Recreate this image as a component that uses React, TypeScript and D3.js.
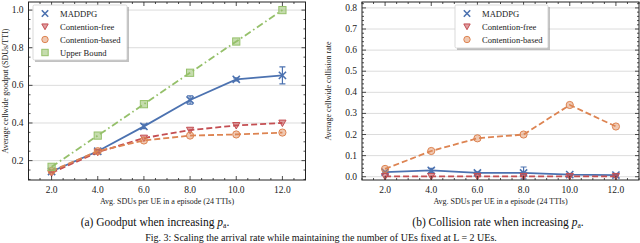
import React, { useEffect, useRef } from 'react';
import * as d3 from 'd3';

const xs = [2, 4, 6, 8, 10, 12];
const xTicks = [2, 4, 6, 8, 10, 12];

// goodput (left)
const gMaddpg = [0.142, 0.25, 0.382, 0.522, 0.632, 0.653];
const gMaddpgErr = [0.005, 0.008, 0.012, 0.022, 0.008, 0.045];
const gFree = [0.135, 0.245, 0.32, 0.362, 0.387, 0.4];
const gBased = [0.145, 0.25, 0.307, 0.333, 0.339, 0.349];
const gUpper = [0.167, 0.333, 0.5, 0.667, 0.833, 1.0];
const gYTicks = [0.2, 0.4, 0.6, 0.8, 1.0];

// collision rate (right)
const cMaddpg = [0.022, 0.03, 0.018, 0.018, 0.01, 0.008];
const cMaddpgErr = [0.004, 0.01, 0.005, 0.028, 0.004, 0.003];
const cFree = [0.002, 0.002, 0.002, 0.002, 0.002, 0.002];
const cBased = [0.037, 0.122, 0.182, 0.2, 0.34, 0.238];
const cYTicks = [0.0, 0.1, 0.2, 0.3, 0.4, 0.5, 0.6, 0.7, 0.8];

const BLUE = '#4C72B0';
const RED = '#C44E52';
const ORANGE = '#DD8452';
const GREEN = '#95C06A';
const FONT = "'Liberation Serif', 'Times New Roman', 'DejaVu Serif', serif";

const App = () => {
  const ref = useRef<SVGSVGElement>(null);

  useEffect(() => {
    const svg = d3.select(ref.current);
    svg.selectAll('*').remove();

    const drawMarker = (g: any, type: string, cx: number, cy: number, color: string, s = 3.6) => {
      if (type === 'x') {
        g.append('path')
          .attr('d', `M${cx - s},${cy - s}L${cx + s},${cy + s}M${cx - s},${cy + s}L${cx + s},${cy - s}`)
          .attr('stroke', color).attr('stroke-width', 1.6).attr('fill', 'none');
      } else if (type === 'v') {
        g.append('path')
          .attr('d', `M${cx - s},${cy - s * 0.8}L${cx + s},${cy - s * 0.8}L${cx},${cy + s}Z`)
          .attr('fill', color).attr('fill-opacity', 0.55).attr('stroke', color).attr('stroke-width', 1);
      } else if (type === 'o') {
        g.append('circle').attr('cx', cx).attr('cy', cy).attr('r', s)
          .attr('fill', color).attr('fill-opacity', 0.45).attr('stroke', color).attr('stroke-width', 1);
      } else if (type === 's') {
        g.append('rect').attr('x', cx - s).attr('y', cy - s).attr('width', 2 * s).attr('height', 2 * s)
          .attr('fill', color).attr('fill-opacity', 0.55).attr('stroke', color).attr('stroke-width', 1);
      }
    };

    const panel = (opts: any) => {
      const { left, right, top, bottom, yDomain, yTicks, yMinor, series, ylabel, ylabelX, legend } = opts;
      const g = svg.append('g');
      const x = d3.scaleLinear().domain([1, 13]).range([left, right]);
      const y = d3.scaleLinear().domain(yDomain).range([bottom, top]);

      // grid
      g.selectAll('line.grid').data(yTicks).enter().append('line')
        .attr('x1', left).attr('x2', right)
        .attr('y1', (d: number) => y(d)).attr('y2', (d: number) => y(d))
        .attr('stroke', '#dcdcdc').attr('stroke-width', 1);

      // series
      series.forEach((s: any) => {
        const line = d3.line<number>().x((d, i) => x(xs[i])).y(d => y(d));
        g.append('path').datum(s.values).attr('d', line)
          .attr('fill', 'none').attr('stroke', s.color).attr('stroke-width', 1.8)
          .attr('stroke-dasharray', s.dash || null);
        if (s.err) {
          s.values.forEach((v: number, i: number) => {
            const cx = x(xs[i]);
            const e = s.err[i];
            g.append('path')
              .attr('d', `M${cx},${y(v - e)}V${y(v + e)}M${cx - 3},${y(v - e)}H${cx + 3}M${cx - 3},${y(v + e)}H${cx + 3}`)
              .attr('stroke', s.color).attr('stroke-width', 1.2).attr('fill', 'none');
          });
        }
        s.values.forEach((v: number, i: number) => drawMarker(g, s.marker, x(xs[i]), y(v), s.color));
      });

      // frame
      g.append('rect').attr('x', left).attr('y', top).attr('width', right - left).attr('height', bottom - top)
        .attr('fill', 'none').attr('stroke', '#222').attr('stroke-width', 1);

      // ticks
      const xMinor = d3.range(1, 13.01, 0.5).filter(v => !xTicks.includes(v));
      const tickG = g.append('g').attr('stroke', '#222').attr('stroke-width', 0.8);
      xTicks.forEach(t => {
        tickG.append('line').attr('x1', x(t)).attr('x2', x(t)).attr('y1', bottom).attr('y2', bottom - 4);
        tickG.append('line').attr('x1', x(t)).attr('x2', x(t)).attr('y1', top).attr('y2', top + 4);
      });
      xMinor.forEach(t => {
        tickG.append('line').attr('x1', x(t)).attr('x2', x(t)).attr('y1', bottom).attr('y2', bottom - 2);
        tickG.append('line').attr('x1', x(t)).attr('x2', x(t)).attr('y1', top).attr('y2', top + 2);
      });
      yTicks.forEach((t: number) => {
        tickG.append('line').attr('x1', left).attr('x2', left + 4).attr('y1', y(t)).attr('y2', y(t));
        tickG.append('line').attr('x1', right).attr('x2', right - 4).attr('y1', y(t)).attr('y2', y(t));
      });
      yMinor.forEach((t: number) => {
        tickG.append('line').attr('x1', left).attr('x2', left + 2).attr('y1', y(t)).attr('y2', y(t));
        tickG.append('line').attr('x1', right).attr('x2', right - 2).attr('y1', y(t)).attr('y2', y(t));
      });

      // tick labels
      g.selectAll('text.xt').data(xTicks).enter().append('text')
        .attr('x', (d: number) => x(d)).attr('y', bottom + 13)
        .attr('text-anchor', 'middle').style('font-size', '9.5px').style('font-family', FONT).attr('fill', '#222')
        .text((d: number) => d.toFixed(1));
      g.selectAll('text.yt').data(yTicks).enter().append('text')
        .attr('x', left - 5).attr('y', (d: number) => y(d) + 3)
        .attr('text-anchor', 'end').style('font-size', '9.5px').style('font-family', FONT).attr('fill', '#222')
        .text((d: number) => d.toFixed(1));

      // axis labels
      g.append('text').attr('x', (left + right) / 2).attr('y', bottom + 24)
        .attr('text-anchor', 'middle').style('font-size', '8px').style('font-family', FONT).attr('fill', '#222')
        .text('Avg. SDUs per UE in a episode (24 TTIs)');
      g.append('text').attr('transform', `translate(${ylabelX},${(top + bottom) / 2}) rotate(-90)`)
        .attr('text-anchor', 'middle').style('font-size', '8px').style('font-family', FONT).attr('fill', '#222')
        .text(ylabel);

      // legend
      const lg = g.append('g');
      lg.append('rect').attr('x', legend.x + 2).attr('y', legend.y + 2).attr('width', legend.w).attr('height', legend.h)
        .attr('fill', '#9a9a9a').attr('opacity', 0.6);
      lg.append('rect').attr('x', legend.x).attr('y', legend.y).attr('width', legend.w).attr('height', legend.h)
        .attr('rx', 1.5).attr('fill', '#fff').attr('stroke', '#cfcfcf').attr('stroke-width', 0.8);
      series.forEach((s: any, i: number) => {
        const cy = legend.y + 8.5 + i * 13;
        drawMarker(lg, s.marker, legend.x + 12, cy, s.color, 3.2);
        lg.append('text').attr('x', legend.x + 27).attr('y', cy + 3)
          .style('font-size', '8.6px').style('font-family', FONT).attr('fill', '#222').text(s.name);
      });
    };

    panel({
      left: 28.5, right: 305.5, top: 2, bottom: 180,
      yDomain: [0.097, 1.043], yTicks: gYTicks, yMinor: d3.range(0.1, 1.04, 0.05).filter(v => Math.abs((v * 10) % 2) > 0.01 && Math.abs(((v * 10) % 2) - 2) > 0.01),
      ylabel: 'Average cellwide goodput (SDUs/TTI)', ylabelX: 8,
      legend: { x: 33, y: 5, w: 94, h: 55 },
      series: [
        { name: 'MADDPG', values: gMaddpg, err: gMaddpgErr, color: BLUE, marker: 'x' },
        { name: 'Contention-free', values: gFree, color: RED, marker: 'v', dash: '6,3' },
        { name: 'Contention-based', values: gBased, color: ORANGE, marker: 'o', dash: '6,3' },
        { name: 'Upper Bound', values: gUpper, color: GREEN, marker: 's', dash: '7,3,1.6,3' },
      ],
    });

    panel({
      left: 362, right: 639, top: 2, bottom: 180,
      yDomain: [-0.0155, 0.828], yTicks: cYTicks, yMinor: d3.range(0, 0.83, 0.02).filter(v => Math.abs(v * 10 - Math.round(v * 10)) > 0.01),
      ylabel: 'Average cellwide collision rate', ylabelX: 331,
      legend: { x: 455, y: 5, w: 93, h: 43 },
      series: [
        { name: 'MADDPG', values: cMaddpg, err: cMaddpgErr, color: BLUE, marker: 'x' },
        { name: 'Contention-free', values: cFree, color: RED, marker: 'v', dash: '6,3' },
        { name: 'Contention-based', values: cBased, color: ORANGE, marker: 'o', dash: '6,3' },
      ],
    });

    // captions
    const cap = (cx: number, label: string) => {
      const t = svg.append('text').attr('x', cx).attr('y', 226).attr('text-anchor', 'middle')
        .style('font-size', '11.5px').style('font-family', FONT).attr('fill', '#111');
      t.append('tspan').text(label);
      t.append('tspan').attr('font-style', 'italic').text('p');
      t.append('tspan').style('font-size', '7.5px').attr('dy', 2).text('a');
      t.append('tspan').attr('dy', -2).text('.');
    };
    cap(155, '(a) Goodput when increasing ');
    cap(498, '(b) Collision rate when increasing ');

    svg.append('text').attr('x', 321).attr('y', 241).attr('text-anchor', 'middle')
      .style('font-size', '10px').style('font-family', FONT).attr('fill', '#111')
      .text('Fig. 3: Scaling the arrival rate while maintaining the number of UEs fixed at L = 2 UEs.');
  }, []);

  return (
    <svg ref={ref} width={640} height={243}
      style={{ position: 'absolute', left: 0, top: 0, background: '#fff' }} />
  );
};

export default App;
